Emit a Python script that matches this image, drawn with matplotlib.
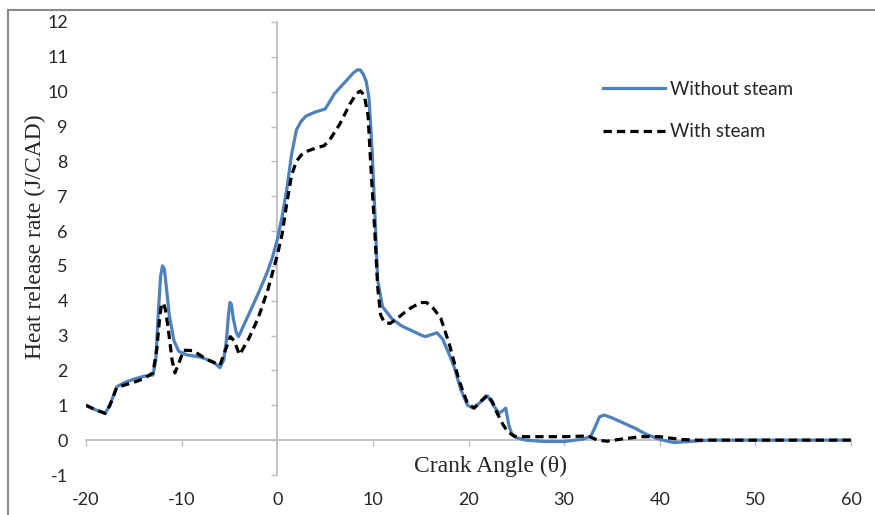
#! /usr/bin/env python3
import matplotlib
matplotlib.use('Agg')
import matplotlib.pyplot as plt
from matplotlib.patches import Rectangle
import numpy as np

plt.rcParams['axes.unicode_minus'] = False

# crank angle / heat release rate
angle_dry = [-20, -19, -18, -17.5, -16.8, -16, -15, -14, -13, -12.7, -12.45, -12.2, -12.0,
             -11.8, -11.6, -11.3, -10.8, -10.3, -9.5, -8, -6.7, -6, -5.6, -5.3, -5.1,
             -4.95, -4.8, -4.6, -4.3, -4.05, -3, -2, -1, -0.5, 0, 0.5, 1, 1.5, 2, 2.5, 3,
             4, 5, 5.5, 6, 7, 8, 8.4, 8.7, 9.0, 9.3, 9.6, 9.9, 10.2, 10.5, 11, 12, 13, 14,
             15, 15.5, 16, 16.7, 17.3, 18, 18.5, 19.2, 19.9, 20.5, 21.2, 22, 22.6, 23.2,
             23.6, 23.9, 24.2, 24.5, 25, 26, 28, 30, 32, 32.8, 33.2, 33.7, 34.2, 35, 36.3,
             37.5, 38.5, 40, 41.5, 43.5, 45, 50, 55, 60]
hrr_dry = [1.0, 0.87, 0.77, 1.0, 1.53, 1.65, 1.75, 1.83, 1.87, 2.3, 3.6, 4.7, 5.0,
           4.9, 4.4, 3.6, 2.85, 2.55, 2.45, 2.38, 2.25, 2.08, 2.3, 2.9, 3.6,
           3.95, 3.9, 3.5, 3.1, 2.97, 3.6, 4.2, 4.85, 5.25, 5.75, 6.4, 7.2, 8.2, 8.9,
           9.15, 9.3, 9.42, 9.5, 9.72, 9.95, 10.25, 10.55, 10.63, 10.62, 10.5, 10.3,
           9.8, 8.4, 6.6, 4.6, 3.83, 3.48, 3.28, 3.15, 3.02, 2.97, 3.02, 3.08, 2.9,
           2.45, 2.1, 1.45, 1.0, 0.92, 1.08, 1.27, 1.0, 0.77, 0.85, 0.92, 0.45, 0.2,
           0.07, 0.0, -0.04, -0.04, 0.03, 0.12, 0.35, 0.67, 0.72, 0.64, 0.48, 0.33,
           0.18, 0.02, -0.07, -0.03, 0.0, 0, 0, 0]

angle_steam = [-20, -19, -18, -17.5, -16.8, -16, -15, -14, -13, -12.6, -12.3, -12.1,
               -11.9, -11.7, -11.4, -11.0, -10.7, -10.3, -9.8, -8.8, -7.4, -6, -5.4,
               -4.9, -4.5, -3.95, -3, -2, -1, 0, 0.5, 1, 1.5, 2, 2.5, 3, 4, 4.9, 5.5,
               6.6, 7.6, 8.3, 8.7, 9.1, 9.5, 9.8, 10.2, 10.5, 10.8, 11.2, 11.8, 12.5,
               13.2, 14, 15, 15.6, 16.2, 17.1, 18, 19, 19.9, 20.6, 21.3, 22, 22.5, 23,
               23.6, 24.1, 24.8, 26, 30, 32.5, 33.5, 34.5, 36, 38, 40, 42.2, 44, 50, 55,
               60]
hrr_steam = [1.0, 0.87, 0.77, 1.0, 1.5, 1.58, 1.66, 1.76, 1.93, 2.6, 3.5, 3.9,
             3.93, 3.75, 3.2, 2.3, 1.93, 2.2, 2.58, 2.57, 2.32, 2.15, 2.6,
             2.97, 2.85, 2.45, 2.9, 3.5, 4.3, 5.3, 5.9, 6.8, 7.6, 8.0, 8.18, 8.28, 8.38,
             8.45, 8.62, 9.1, 9.65, 9.95, 10.02, 9.9, 9.3, 7.8, 6.0, 4.4, 3.6, 3.38,
             3.35, 3.48, 3.64, 3.8, 3.95, 3.95, 3.83, 3.5, 2.75, 1.72, 1.05, 0.92,
             1.12, 1.3, 1.1, 0.77, 0.45, 0.24, 0.11, 0.1, 0.1, 0.12, 0.0, -0.03, 0.03,
             0.1, 0.1, 0.02, 0.0, 0, 0, 0]

x_ticks = np.arange(-20, 61, 10)
y_ticks = np.arange(-1, 13, 1)

tick_font = 'Lato'
serif_font = 'Liberation Serif'
axis_grey = '#bfbfbf'

fig = plt.figure(figsize=(8.75, 5.15), dpi=100)
W, H = 875.0, 515.0
ax = fig.add_axes([86 / W, 1 - 475 / H, (851 - 86) / W, (475 - 22) / H])
ax.set_xlim(-20, 60)
ax.set_ylim(-1, 12)
for s in ax.spines.values():
    s.set_visible(False)
ax.set_xticks(x_ticks)
ax.set_yticks(y_ticks)
ax.tick_params(length=0)
ax.tick_params(axis='x', pad=12)
ax.tick_params(axis='y', pad=13)
for lab in ax.get_xticklabels() + ax.get_yticklabels():
    lab.set_fontfamily(tick_font)
    lab.set_fontsize(13)
    lab.set_color('#262626')

# axis lines crossing at the origin (Excel style)
sy = ax.secondary_yaxis(20 / 80)
sy.set_yticks(y_ticks)
sy.tick_params(labelleft=False, labelright=False, direction='out', length=4.5,
               width=1.0, color=axis_grey)
for s in sy.spines.values():
    s.set_color(axis_grey)
    s.set_linewidth(1.3)

sx = ax.secondary_xaxis(1 / 13)
sx.set_xticks(x_ticks)
sx.tick_params(labelbottom=False, labeltop=False, direction='out', length=4.5,
               width=1.0, color=axis_grey)
for s in sx.spines.values():
    s.set_color(axis_grey)
    s.set_linewidth(1.3)

ax.plot(angle_dry, hrr_dry, color='#4f81bd', lw=2.3, label='Without steam',
        solid_joinstyle='round', zorder=3)
ax.plot(angle_steam, hrr_steam, color='black', lw=2.3, ls=(0, (2.6, 1.6)),
        label='With steam', zorder=4)

leg = ax.legend(loc='upper left', bbox_to_anchor=(603 / W, 1 - 81 / H),
                bbox_transform=fig.transFigure, frameon=False, borderpad=0,
                borderaxespad=0, handlelength=3.3, handletextpad=0.3,
                labelspacing=1.35, prop={'family': tick_font, 'size': 13.5})
for t in leg.get_texts():
    t.set_color('#262626')

fig.text(490 / W, 1 - 466 / H, 'Crank Angle (\u03b8)', ha='center', va='center',
         family=serif_font, fontsize=17, color='#262626')
fig.text(35 / W, 1 - 237 / H, 'Heat release rate (J/CAD)', ha='center', va='center',
         rotation=90, family=serif_font, fontsize=17, color='#262626')

# chart border, cut off at right and bottom as in the original
fig.patches.append(Rectangle((8 / W, -0.1), 1.2, 1 - 10 / H + 0.1, transform=fig.transFigure,
                             fill=False, ec='#8a8a8a', lw=1.5))

fig.savefig('out.png', dpi=100)
